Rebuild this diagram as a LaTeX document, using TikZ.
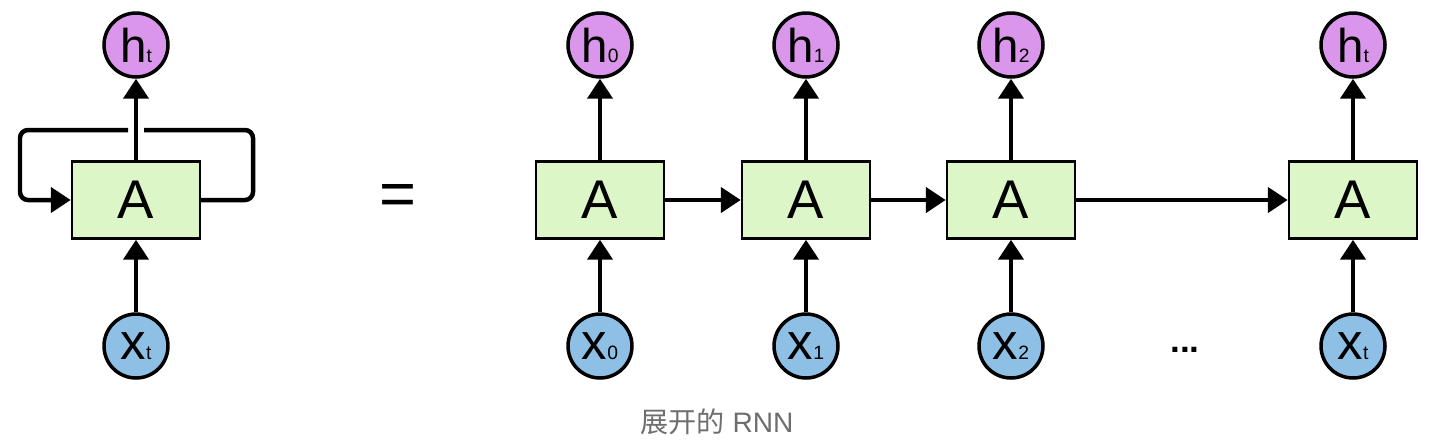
\documentclass[tikz,border=0pt]{standalone}
\usepackage{fontspec}
\setmainfont{Liberation Sans}
\newfontfamily\cjkfont{Noto Sans CJK SC}
\usetikzlibrary{arrows.meta, positioning}
\definecolor{cellgreen}{RGB}{221,246,200}
\definecolor{outpurple}{RGB}{218,150,234}
\definecolor{inblue}{RGB}{142,192,230}
\definecolor{captiongray}{RGB}{110,110,110}
\tikzset{%
    cell box/.style={%
        draw, line width=0.05cm, fill=cellgreen,
        minimum width=2.56cm, minimum height=1.54cm,
        inner sep=0pt, font=\fontsize{31}{31}\selectfont
    },
    state circ/.style={%
        circle, draw, line width=0.07cm,
        minimum size=1.28cm, inner sep=0pt,
        font=\fontsize{27}{27}\selectfont
    },
    out circ/.style={state circ, fill=outpurple},
    in circ/.style={state circ, fill=inblue, font=\fontsize{29}{29}\selectfont},
    link/.style={line width=0.09cm, -{Triangle[length=0.4cm, width=0.5cm]}},
    loop line/.style={line width=0.09cm, rounded corners=0.16cm}%
}
\newcommand{\stepsub}[1]{{\fontsize{11}{11}\selectfont #1}}

\begin{document}
\begin{tikzpicture}[x=0.02cm, y=-0.02cm]
\useasboundingbox (0,0) rectangle (1436,444);

% folded cell
\node[cell box] (cell) at (136,200) {A};
\node[out circ] (hout) at (136,45) {h\stepsub{t}};
\node[in circ] (xin) at (136,346) {x\stepsub{t}};
\coordinate (loop-se) at (253,200);
\coordinate (loop-ne) at (253,130);
\coordinate (gap-r) at (144,130);
\coordinate (gap-l) at (128,130);
\coordinate (loop-nw) at (20,130);
\coordinate (loop-sw) at (20,200);
\draw[loop line] (cell.east) -- (loop-se) -- (loop-ne) -- (gap-r);
\draw[link, loop line] (gap-l) -- (loop-nw) -- (loop-sw) -- (cell.west);
\draw[link] (cell) -- (hout);
\draw[link] (xin) -- (cell);

\node[font=\fontsize{36}{36}\selectfont] (eq) at (398,200) {=};

% unrolled cells
\foreach \i/\x in {0/600, 1/806, 2/1011, t/1353} {
    \node[cell box] (cell-\i) at (\x,200) {A};
    \node[out circ] (out-\i) at (\x,45) {h\stepsub{\i}};
    \node[in circ] (in-\i) at (\x,346) {x\stepsub{\i}};
    \draw[link] (cell-\i) -- (out-\i);
    \draw[link] (in-\i) -- (cell-\i);
}
\draw[link] (cell-0) -- (cell-1);
\draw[link] (cell-1) -- (cell-2);
\draw[link] (cell-2) -- (cell-t);

\node[font=\bfseries\fontsize{20}{20}\selectfont] (dots) at (1185,350) {...};
\node[font=\fontsize{16}{16}\selectfont, text=captiongray] (caption) at (717,422)
    {{\cjkfont 展开的} RNN};
\end{tikzpicture}
\end{document}
